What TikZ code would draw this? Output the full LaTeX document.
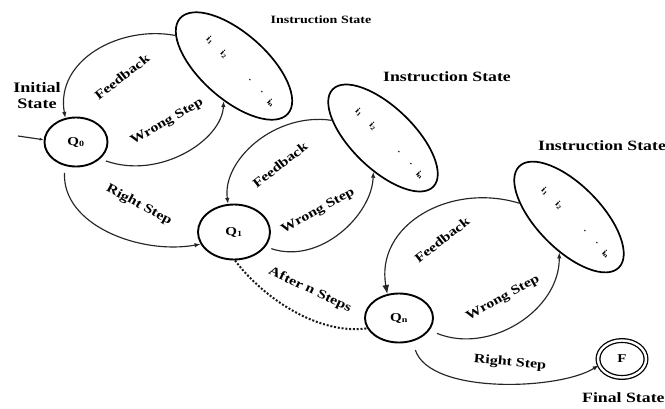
\documentclass[tikz,border=0pt]{standalone}
\usepackage{fontspec}
\setmainfont{Liberation Serif}[FakeStretch=1.25]
\usetikzlibrary{shapes.geometric,arrows.meta}
\begin{document}
\begin{tikzpicture}[x=1pt,y=-1pt,
  state/.style={draw, ellipse, line width=1.9pt, inner sep=0pt, font=\bfseries\fontsize{12}{12}\selectfont},
  instr/.style={draw, ellipse, line width=1.7pt, inner sep=0pt},
  itext/.style={font=\bfseries\fontsize{8.5}{9}\selectfont, inner sep=0pt, rotate=-45},
  lbl/.style={font=\bfseries\fontsize{12.8}{13}\selectfont, inner sep=0pt},
  ttl/.style={font=\bfseries\fontsize{14.2}{16}\selectfont, inner sep=0pt},
  conn/.style={line width=1.15pt, draw=black!85, -{Latex[length=6pt,width=4.5pt]}},
  bigtip/.style={-{Latex[length=9pt,width=7pt]}},
  dots/.style={line width=2pt, draw=black!90, dash pattern=on 2pt off 1.8pt}
]
\fill[white] (0,0) rectangle (665,408);
\useasboundingbox (0,0) rectangle (665,408);

% states
\node[state, minimum width=63pt, minimum height=49pt] (q0) at (76,142) {Q\textsubscript{0}};
\node[state, minimum width=72pt, minimum height=55pt] (q1) at (234,232) {Q\textsubscript{1}};
\node[state, minimum width=68pt, minimum height=49pt] (qn) at (399,318) {Q\textsubscript{n}};
\node[state, double, double distance=2.4pt, line width=1.3pt, minimum width=48pt, minimum height=37pt] (f) at (622,359) {F};

% instruction states
\node[instr, minimum width=144pt, minimum height=66pt, rotate=-41.5] (e1) at (234,66) {};
\node[instr, minimum width=140pt, minimum height=62pt, rotate=-44] (e2) at (383,138) {};
\node[instr, minimum width=142pt, minimum height=64pt, rotate=-45.5] (e3) at (569,217) {};

\foreach \e in {e1,e2,e3}{
  \node[itext] (\e-a) at ([shift={(-24,-26)}]\e.center) {i\textsubscript{1}};
  \node[itext] (\e-b) at ([shift={(-10,-12)}]\e.center) {i\textsubscript{2}};
  \node[itext] (\e-c) at ([shift={(16,14)}]\e.center) {.};
  \node[itext] (\e-d) at ([shift={(28,26)}]\e.center) {.};
  \node[itext] (\e-e) at ([shift={(37,37)}]\e.center) {i\textsubscript{n}};
}

% connectors
\coordinate (start) at (18,136);
\draw[conn, -{Latex[length=4pt,width=3pt]}] (start) -- (q0.176);
\draw[conn] (e1.194) .. controls (120,25) and (55,60) .. (q0.114);
\draw[conn, shorten <=6pt] (q0.-35) .. controls (160,180) and (222,140) .. (e1.295);
\draw[conn, shorten <=7pt] (q0.245) .. controls (62,225) and (140,255) .. (q1.200);

\draw[conn] (e2.205) .. controls (275,112) and (222,160) .. (q1.102);
\draw[conn, shorten <=6pt] (q1.-25) .. controls (320,265) and (372,215) .. (e2.298);
\draw[dots] (q1.-88) .. controls (265,300) and (320,335) .. (qn.198);

\draw[conn, bigtip] (e3.210) .. controls (450,182) and (375,225) .. (qn.116);
\draw[conn, shorten <=8pt] (qn.-22) .. controls (490,355) and (560,310) .. (e3.300);
\draw[conn, shorten <=9pt] (qn.-60) .. controls (430,395) and (560,390) .. (f.195);

% edge labels
\node[lbl, rotate=38] (l1) at (122,77) {Feedback};
\node[lbl, rotate=30] (l2) at (167,122) {Wrong Step};
\node[lbl, rotate=-28] (l3) at (139,205) {Right Step};
\node[lbl, rotate=38] (l4) at (280,165) {Feedback};
\node[lbl, rotate=29] (l5) at (318,211) {Wrong Step};
\node[lbl, rotate=-25] (l6) at (310,290) {After n Steps};
\node[lbl, rotate=38] (l7) at (442,240) {Feedback};
\node[lbl, rotate=29] (l8) at (503,298) {Wrong Step};
\node[lbl, rotate=-5] (l9) at (510,363) {Right Step};

% titles
\node[ttl, align=center, font=\bfseries\fontsize{14.5}{16}\selectfont] (init) at (37,96) {Initial\\State};
\node[ttl, font=\bfseries\fontsize{11.2}{12}\selectfont] (t1) at (321,20) {Instruction State};
\node[ttl] (t2) at (447,77) {Instruction State};
\node[ttl, anchor=west] (t3) at (538,146) {Instruction State};
\node[ttl, anchor=west] (fin) at (582,398) {Final State};
\end{tikzpicture}
\end{document}
